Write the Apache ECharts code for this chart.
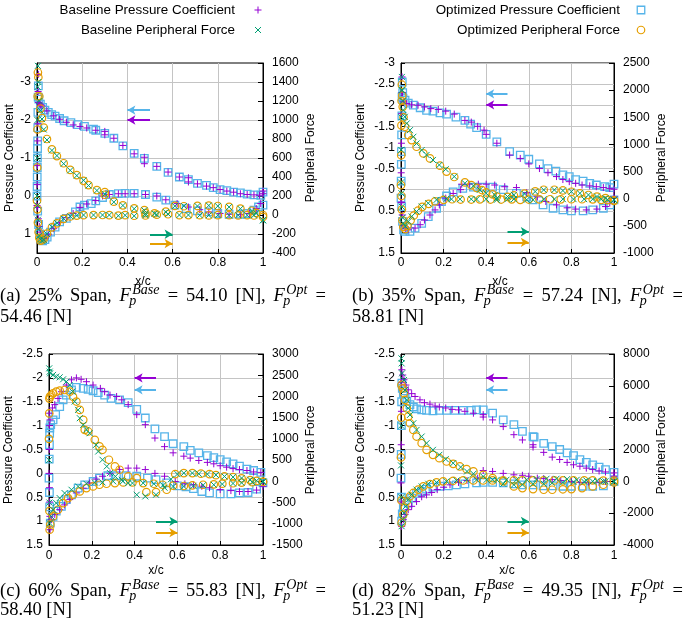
<!DOCTYPE html>
<html><head><meta charset="utf-8">
<script src="https://cdn.jsdelivr.net/npm/echarts@6/dist/echarts.min.js"></script>
<style>html,body{margin:0;padding:0;background:#fff}#c{width:685px;height:623px}</style>
</head><body><div id="c"></div>
<script>
// ---------------- DATA ----------------
const seriesNames = ['Baseline Pressure Coefficient','Baseline Peripheral Force','Optimized Pressure Coefficient','Optimized Peripheral Force'];
const xTickValues = [0,0.2,0.4,0.6,0.8,1];
const aPcTicks = [-3,-2,-1,0,1];
const bPcTicks = [-3,-2.5,-2,-1.5,-1,-0.5,0,0.5,1,1.5];
const cPcTicks = [-2.5,-2,-1.5,-1,-0.5,0,0.5,1,1.5];
const dPcTicks = [-2.5,-2,-1.5,-1,-0.5,0,0.5,1,1.5];
const aPfTicks = [-400,-200,0,200,400,600,800,1000,1200,1400,1600];
const bPfTicks = [-1000,-500,0,500,1000,1500,2000,2500];
const cPfTicks = [-1500,-1000,-500,0,500,1000,1500,2000,2500,3000];
const dPfTicks = [-4000,-2000,0,2000,4000,6000,8000];
const spanPct = ['25%','35%','60%','82%'];
const forceBase = ['54.10','57.24','55.83','49.35'];
const forceOpt = ['54.46','58.81','58.40','51.23'];

// panel (a) 25% span
const aBasePcU = [[0,0.25],[0.001,-0.3],[0.002,-0.8],[0.003,-1.45],[0.004,-1.9],[0.005,-2.75],[0.006,-3.2],[0.007,-2.46],[0.012,-2.42],[0.016,-2.4],[0.022,-2.37],[0.044,-2.24],[0.074,-2.11],[0.10,-2.02],[0.13,-1.94],[0.16,-1.87],[0.19,-1.83],[0.22,-1.79],[0.26,-1.73],[0.30,-1.70],[0.30,-1.61],[0.34,-1.52],[0.38,-1.33],[0.43,-1.11],[0.475,-1.02],[0.475,-0.85],[0.53,-0.78],[0.58,-0.63],[0.63,-0.50],[0.67,-0.48],[0.67,-0.37],[0.71,-0.32],[0.75,-0.26],[0.78,-0.22],[0.81,-0.17],[0.84,-0.13],[0.87,-0.10],[0.90,-0.06],[0.93,-0.04],[0.96,-0.03],[0.985,-0.02],[1.0,-0.13]];
const aBasePcL = [[0.003,0.3],[0.006,0.6],[0.01,0.8],[0.014,0.95],[0.022,1.1],[0.035,1.12],[0.05,1.02],[0.074,0.86],[0.10,0.7],[0.13,0.57],[0.16,0.46],[0.19,0.3],[0.22,0.21],[0.26,0.12],[0.29,0.0],[0.32,-0.04],[0.36,-0.06],[0.39,-0.06],[0.43,-0.06],[0.48,-0.04],[0.53,0.0],[0.57,0.1],[0.62,0.2],[0.67,0.29],[0.72,0.36],[0.76,0.42],[0.81,0.46],[0.85,0.48],[0.9,0.49],[0.94,0.46],[0.97,0.33],[0.99,0.2],[1.0,-0.06]];
const aOptPcU = [[0,0.0],[0.0005,-0.25],[0.001,-0.5],[0.0015,-0.75],[0.002,-1.0],[0.0025,-1.25],[0.003,-1.45],[0.0035,-1.8],[0.004,-2.2],[0.005,-2.6],[0.006,-2.9],[0.008,-2.55],[0.015,-2.42],[0.025,-2.33],[0.035,-2.26],[0.05,-2.2],[0.065,-2.14],[0.08,-2.1],[0.1,-2.04],[0.12,-1.98],[0.15,-1.93],[0.18,-1.88],[0.21,-1.83],[0.25,-1.76],[0.26,-1.73],[0.30,-1.65],[0.34,-1.52],[0.38,-1.32],[0.43,-1.12],[0.475,-0.99],[0.53,-0.78],[0.58,-0.62],[0.63,-0.5],[0.67,-0.43],[0.71,-0.33],[0.75,-0.28],[0.78,-0.22],[0.81,-0.17],[0.84,-0.14],[0.87,-0.1],[0.9,-0.08],[0.93,-0.05],[0.96,-0.03],[0.99,-0.02],[1.0,-0.1]];
const aOptPcL = [[0.003,0.4],[0.007,0.75],[0.012,1.0],[0.018,1.12],[0.025,1.18],[0.035,1.15],[0.045,1.08],[0.06,0.95],[0.08,0.82],[0.1,0.68],[0.13,0.59],[0.17,0.42],[0.19,0.29],[0.21,0.24],[0.24,0.2],[0.26,0.13],[0.29,0.04],[0.32,-0.04],[0.36,-0.06],[0.39,-0.07],[0.43,-0.07],[0.48,-0.04],[0.53,0.03],[0.57,0.11],[0.61,0.24],[0.66,0.33],[0.71,0.39],[0.76,0.42],[0.8,0.46],[0.85,0.48],[0.9,0.48],[0.93,0.46],[0.96,0.37],[0.98,0.29],[1.0,0.24]];
const aBasePfU = [[0,200],[0.001,600],[0.002,1000],[0.003,1350],[0.004,1570],[0.006,1400],[0.01,1200],[0.015,1100],[0.022,1010],[0.03,900],[0.044,790],[0.066,680],[0.088,625],[0.118,540],[0.147,470],[0.176,415],[0.206,365],[0.228,310],[0.265,258],[0.30,220],[0.34,136],[0.38,100],[0.43,66],[0.475,49],[0.48,14],[0.52,14],[0.57,31],[0.61,94],[0.65,94],[0.71,94],[0.76,100],[0.8,94],[0.85,84],[0.9,66],[0.95,42],[0.97,20],[1.0,-55]];
const aBasePfL = [[0.002,100],[0.004,-50],[0.007,-150],[0.01,-220],[0.015,-255],[0.022,-270],[0.03,-262],[0.044,-200],[0.066,-126],[0.088,-84],[0.118,-38],[0.147,-14],[0.176,-5],[0.206,0],[0.25,0],[0.29,0],[0.32,0],[0.36,-8],[0.39,-3],[0.43,-10],[0.48,-3],[0.53,5],[0.58,10],[0.63,0],[0.67,0],[0.72,-3],[0.76,-3],[0.8,-3],[0.85,-3],[0.89,-3],[0.93,-3],[0.96,-3],[1.0,-56]];
const aOptPfU = [[0,150],[0.001,500],[0.002,900],[0.003,1250],[0.004,1500],[0.006,1450],[0.01,1250],[0.015,1120],[0.022,1020],[0.03,920],[0.044,800],[0.066,690],[0.088,620],[0.118,545],[0.147,475],[0.176,420],[0.206,360],[0.228,315],[0.265,262],[0.30,240],[0.30,213],[0.34,140],[0.38,102],[0.43,70],[0.475,52],[0.48,20],[0.52,18],[0.57,35],[0.61,96],[0.65,92],[0.71,96],[0.76,98],[0.8,95],[0.85,86],[0.9,68],[0.95,45],[0.97,22],[1.0,0]];
const aOptPfL = [[0.002,60],[0.004,-80],[0.007,-180],[0.01,-240],[0.015,-270],[0.022,-266],[0.03,-250],[0.044,-196],[0.066,-130],[0.088,-88],[0.118,-40],[0.147,-16],[0.176,-6],[0.206,-2],[0.25,-1],[0.29,0],[0.32,-2],[0.36,-6],[0.39,-2],[0.43,-8],[0.48,-5],[0.53,3],[0.58,8],[0.63,-2],[0.67,-1],[0.72,-2],[0.76,-4],[0.8,-2],[0.85,-2],[0.89,-4],[0.93,-2],[0.96,-5],[1.0,-20]];

// panel (b) 35% span
const bBasePcU = [[0,0.3],[0.001,-0.4],[0.002,-1.1],[0.003,-1.8],[0.004,-2.3],[0.005,-2.67],[0.007,-2.3],[0.011,-2.08],[0.027,-2.04],[0.05,-2.01],[0.08,-2.0],[0.11,-1.96],[0.14,-1.92],[0.175,-1.9],[0.21,-1.86],[0.25,-1.79],[0.3,-1.64],[0.33,-1.6],[0.36,-1.5],[0.39,-1.41],[0.4,-1.31],[0.45,-1.1],[0.51,-0.82],[0.56,-0.74],[0.6,-0.61],[0.65,-0.5],[0.69,-0.4],[0.73,-0.31],[0.76,-0.24],[0.79,-0.19],[0.82,-0.15],[0.85,-0.11],[0.886,-0.09],[0.917,-0.07],[0.95,-0.05],[0.98,-0.03],[1.0,-0.01]];
const bBasePcL = [[0.003,0.3],[0.006,0.6],[0.01,0.85],[0.02,0.93],[0.034,0.95],[0.066,0.91],[0.09,0.83],[0.11,0.72],[0.136,0.6],[0.16,0.48],[0.18,0.36],[0.21,0.2],[0.245,0.09],[0.28,0.0],[0.285,-0.13],[0.32,-0.13],[0.363,-0.13],[0.4,-0.13],[0.44,-0.11],[0.487,-0.07],[0.542,-0.05],[0.59,0.07],[0.64,0.17],[0.68,0.28],[0.73,0.36],[0.78,0.43],[0.82,0.46],[0.87,0.48],[0.92,0.46],[0.96,0.4],[0.98,0.32],[1.0,0.17]];
const bOptPcU = [[0,0.2],[0.0008,-0.2],[0.0015,-0.6],[0.002,-0.9],[0.003,-1.3],[0.004,-1.75],[0.005,-2.2],[0.006,-2.55],[0.008,-2.3],[0.009,-2.16],[0.019,-2.12],[0.034,-2.05],[0.058,-2.0],[0.09,-1.94],[0.12,-1.88],[0.15,-1.86],[0.183,-1.82],[0.214,-1.79],[0.258,-1.72],[0.3,-1.64],[0.327,-1.55],[0.355,-1.47],[0.4,-1.31],[0.45,-1.13],[0.51,-0.9],[0.56,-0.82],[0.6,-0.72],[0.65,-0.61],[0.69,-0.5],[0.727,-0.44],[0.76,-0.35],[0.79,-0.31],[0.82,-0.24],[0.855,-0.2],[0.886,-0.15],[0.917,-0.11],[0.956,-0.07],[0.98,-0.05],[1.0,-0.13]];
const bOptPcL = [[0.003,0.4],[0.007,0.75],[0.012,0.95],[0.019,0.99],[0.042,0.99],[0.066,0.91],[0.097,0.8],[0.128,0.64],[0.167,0.44],[0.19,0.28],[0.214,0.15],[0.245,0.05],[0.29,-0.03],[0.34,-0.06],[0.386,-0.06],[0.43,-0.06],[0.48,0.0],[0.542,0.09],[0.59,0.17],[0.62,0.24],[0.667,0.36],[0.714,0.44],[0.76,0.48],[0.8,0.5],[0.855,0.5],[0.9,0.48],[0.95,0.44],[0.98,0.36],[1.0,0.24]];
const bBasePfU = [[0,300],[0.001,900],[0.002,1500],[0.003,2000],[0.004,2243],[0.006,2000],[0.008,1800],[0.011,1633],[0.018,1509],[0.027,1387],[0.042,1263],[0.058,1141],[0.073,1018],[0.097,896],[0.12,806],[0.15,714],[0.18,622],[0.21,543],[0.25,408],[0.3,285],[0.34,237],[0.37,163],[0.4,102],[0.44,70],[0.45,10],[0.5,40],[0.53,71],[0.58,90],[0.63,132],[0.67,163],[0.72,163],[0.76,150],[0.8,130],[0.84,100],[0.88,70],[0.92,40],[0.96,10],[1.0,-20]];
const bBasePfL = [[0.002,100],[0.004,-150],[0.007,-350],[0.011,-450],[0.02,-510],[0.034,-419],[0.05,-327],[0.073,-236],[0.097,-144],[0.128,-82],[0.167,-21],[0.214,0],[0.237,-8],[0.277,-8],[0.33,-8],[0.355,-8],[0.4,-8],[0.45,-20],[0.5,-8],[0.53,-8],[0.59,-20],[0.62,-20],[0.67,-8],[0.72,-8],[0.76,-8],[0.81,-8],[0.86,-8],[0.9,-8],[0.94,-10],[0.97,-15],[1.0,-20]];
const bOptPfU = [[0,250],[0.001,800],[0.002,1350],[0.003,1800],[0.004,2100],[0.006,1900],[0.008,1692],[0.012,1500],[0.019,1326],[0.034,1172],[0.05,1080],[0.073,957],[0.105,835],[0.136,743],[0.183,608],[0.214,500],[0.25,400],[0.3,300],[0.33,250],[0.355,200],[0.38,160],[0.4,115],[0.43,80],[0.45,40],[0.5,35],[0.53,60],[0.58,95],[0.63,135],[0.67,165],[0.72,165],[0.76,152],[0.8,128],[0.84,98],[0.88,68],[0.92,38],[0.96,12],[1.0,-40]];
const bOptPfL = [[0.002,50],[0.004,-200],[0.007,-400],[0.011,-520],[0.02,-560],[0.03,-500],[0.045,-400],[0.06,-310],[0.08,-220],[0.1,-150],[0.13,-95],[0.16,-50],[0.2,-20],[0.24,-10],[0.28,-15],[0.33,-15],[0.37,-12],[0.42,-15],[0.47,-15],[0.52,-12],[0.56,-20],[0.6,-15],[0.65,-12],[0.7,-10],[0.75,-12],[0.8,-10],[0.85,-10],[0.9,-12],[0.94,-20],[0.97,-25],[1.0,-30]];

// panel (c) 60% span
const cBasePcU = [[0,0.0],[0.001,-0.5],[0.002,-1.0],[0.003,-1.26],[0.005,-1.12],[0.016,-1.37],[0.027,-1.44],[0.042,-1.57],[0.058,-1.71],[0.081,-1.85],[0.105,-1.96],[0.128,-2.0],[0.15,-1.97],[0.175,-1.92],[0.206,-1.85],[0.24,-1.78],[0.26,-1.71],[0.285,-1.64],[0.316,-1.61],[0.34,-1.54],[0.37,-1.44],[0.41,-1.23],[0.45,-1.02],[0.495,-0.74],[0.54,-0.56],[0.58,-0.43],[0.63,-0.36],[0.66,-0.32],[0.7,-0.27],[0.74,-0.23],[0.77,-0.2],[0.8,-0.16],[0.83,-0.13],[0.86,-0.1],[0.89,-0.08],[0.925,-0.06],[0.956,-0.03],[0.99,-0.02]];
const cBasePcL = [[0.002,0.3],[0.003,0.6],[0.004,0.9],[0.005,1.18],[0.011,0.97],[0.027,0.86],[0.05,0.76],[0.073,0.66],[0.097,0.55],[0.128,0.41],[0.16,0.31],[0.19,0.2],[0.22,0.12],[0.25,0.06],[0.285,0.0],[0.33,-0.08],[0.37,-0.11],[0.41,-0.11],[0.45,-0.08],[0.495,0.0],[0.54,0.06],[0.59,0.17],[0.635,0.22],[0.675,0.24],[0.714,0.27],[0.75,0.3],[0.8,0.34],[0.85,0.36],[0.89,0.38],[0.93,0.38],[0.97,0.35],[1.0,0.27]];
const cOptPcU = [[0,0.1],[0.001,-0.3],[0.002,-0.6],[0.003,-0.84],[0.004,-0.95],[0.008,-1.02],[0.019,-1.12],[0.031,-1.23],[0.05,-1.4],[0.066,-1.54],[0.081,-1.64],[0.105,-1.75],[0.128,-1.8],[0.16,-1.78],[0.183,-1.76],[0.206,-1.73],[0.23,-1.69],[0.26,-1.64],[0.29,-1.57],[0.33,-1.54],[0.37,-1.48],[0.41,-1.34],[0.45,-1.16],[0.495,-0.93],[0.54,-0.77],[0.58,-0.62],[0.63,-0.56],[0.66,-0.48],[0.7,-0.43],[0.74,-0.37],[0.77,-0.33],[0.8,-0.29],[0.83,-0.24],[0.86,-0.2],[0.89,-0.15],[0.925,-0.09],[0.956,-0.06],[0.99,-0.02]];
const cOptPcL = [[0.002,0.4],[0.003,0.7],[0.006,1.04],[0.019,0.9],[0.034,0.79],[0.058,0.69],[0.081,0.55],[0.105,0.45],[0.136,0.31],[0.167,0.24],[0.206,0.17],[0.236,0.1],[0.275,0.05],[0.315,0.05],[0.36,0.05],[0.41,0.06],[0.46,0.1],[0.5,0.13],[0.55,0.2],[0.6,0.26],[0.64,0.28],[0.675,0.32],[0.714,0.38],[0.75,0.41],[0.8,0.43],[0.85,0.43],[0.89,0.41],[0.93,0.4],[0.97,0.33],[1.0,0.2]];
const cBasePfU = [[0,500],[0.001,2662],[0.003,2584],[0.005,2545],[0.019,2507],[0.034,2467],[0.05,2451],[0.066,2404],[0.081,2349],[0.097,2271],[0.11,2115],[0.12,1880],[0.136,1683],[0.144,1488],[0.16,1330],[0.175,1213],[0.19,1134],[0.22,860],[0.23,703],[0.25,508],[0.27,352],[0.285,194],[0.31,115],[0.34,37],[0.37,-41],[0.41,-316],[0.45,-355],[0.5,-316],[0.54,-150],[0.57,50],[0.6,170],[0.63,194],[0.67,194],[0.7,178],[0.74,170],[0.78,150],[0.82,115],[0.86,100],[0.9,76],[0.94,37],[0.97,15],[1.0,0]];
const cBasePfL = [[0.002,-500],[0.003,-984],[0.011,-827],[0.019,-670],[0.034,-513],[0.05,-395],[0.073,-277],[0.105,-198],[0.136,-120],[0.175,-57],[0.214,-26],[0.25,-26],[0.3,0],[0.345,0],[0.39,-41],[0.44,-41],[0.49,-57],[0.534,-89],[0.58,-120],[0.63,-120],[0.675,-105],[0.72,-89],[0.77,-81],[0.81,-65],[0.86,-50],[0.9,-35],[0.95,-20],[1.0,-15]];
const cOptPfU = [[0,1000],[0.001,1600],[0.002,1950],[0.004,1995],[0.011,2035],[0.019,2074],[0.034,2113],[0.05,2137],[0.073,2152],[0.097,2113],[0.112,1995],[0.128,1880],[0.144,1683],[0.16,1449],[0.167,1213],[0.183,1174],[0.214,978],[0.236,822],[0.25,743],[0.28,508],[0.308,352],[0.33,273],[0.37,115],[0.41,76],[0.455,-254],[0.5,-254],[0.55,-198],[0.59,170],[0.63,194],[0.67,194],[0.71,180],[0.75,170],[0.78,145],[0.82,115],[0.86,100],[0.9,70],[0.94,30],[0.97,10],[1.0,-10]];
const cOptPfL = [[0.002,-700],[0.003,-1140],[0.006,-1020],[0.019,-827],[0.042,-670],[0.066,-513],[0.089,-395],[0.112,-316],[0.144,-238],[0.175,-159],[0.206,-120],[0.236,-81],[0.269,-57],[0.308,-41],[0.347,-26],[0.39,-26],[0.44,-41],[0.49,-57],[0.53,-80],[0.58,-100],[0.63,-110],[0.67,-95],[0.72,-80],[0.77,-70],[0.81,-55],[0.86,-45],[0.9,-30],[0.95,-20],[1.0,-10]];

// panel (d) 82% span
const dBasePcU = [[0,0.2],[0.001,-0.6],[0.002,-1.3],[0.003,-1.9],[0.004,-2.17],[0.008,-2.06],[0.014,-1.96],[0.023,-1.85],[0.034,-1.75],[0.05,-1.67],[0.066,-1.61],[0.089,-1.54],[0.11,-1.48],[0.136,-1.45],[0.16,-1.41],[0.18,-1.39],[0.21,-1.37],[0.24,-1.34],[0.27,-1.33],[0.3,-1.3],[0.34,-1.26],[0.386,-1.23],[0.386,-1.18],[0.43,-1.12],[0.48,-0.98],[0.53,-0.81],[0.57,-0.7],[0.62,-0.6],[0.62,-0.55],[0.67,-0.44],[0.71,-0.34],[0.745,-0.29],[0.78,-0.23],[0.81,-0.18],[0.84,-0.15],[0.87,-0.11],[0.9,-0.08],[0.93,-0.05],[0.96,-0.03],[1.0,-0.01]];
const dBasePcL = [[0.002,0.6],[0.003,1.11],[0.011,0.97],[0.019,0.86],[0.034,0.76],[0.05,0.69],[0.073,0.59],[0.097,0.49],[0.12,0.45],[0.144,0.4],[0.17,0.34],[0.2,0.29],[0.23,0.24],[0.27,0.19],[0.31,0.15],[0.36,0.1],[0.386,-0.06],[0.43,-0.04],[0.48,0.0],[0.53,0.03],[0.57,0.04],[0.6,0.06],[0.64,0.1],[0.67,0.11],[0.71,0.13],[0.75,0.15],[0.8,0.17],[0.84,0.19],[0.88,0.19],[0.93,0.19],[0.96,0.17],[1.0,0.06]];
const dOptPcU = [[0,0.1],[0.001,-0.4],[0.002,-1.0],[0.003,-1.5],[0.004,-1.89],[0.006,-1.78],[0.011,-1.68],[0.019,-1.57],[0.027,-1.51],[0.042,-1.44],[0.058,-1.39],[0.073,-1.35],[0.097,-1.33],[0.12,-1.32],[0.15,-1.31],[0.18,-1.32],[0.214,-1.32],[0.253,-1.32],[0.292,-1.32],[0.33,-1.32],[0.355,-1.33],[0.386,-1.33],[0.43,-1.26],[0.48,-1.12],[0.53,-1.02],[0.57,-0.88],[0.62,-0.77],[0.625,-0.76],[0.67,-0.63],[0.71,-0.56],[0.745,-0.5],[0.78,-0.43],[0.81,-0.37],[0.84,-0.29],[0.87,-0.23],[0.9,-0.18],[0.93,-0.13],[0.96,-0.08],[1.0,-0.02]];
const dOptPcL = [[0.002,0.5],[0.003,1.0],[0.006,0.85],[0.011,0.72],[0.034,0.62],[0.05,0.52],[0.073,0.42],[0.097,0.38],[0.12,0.33],[0.15,0.29],[0.183,0.27],[0.222,0.26],[0.26,0.24],[0.3,0.22],[0.355,0.2],[0.386,0.19],[0.43,0.19],[0.48,0.2],[0.53,0.22],[0.57,0.24],[0.62,0.24],[0.667,0.26],[0.714,0.26],[0.76,0.27],[0.8,0.27],[0.855,0.27],[0.9,0.27],[0.95,0.26],[1.0,0.17]];
const dBasePfU = [[0,1000],[0.001,3500],[0.002,7725],[0.003,7411],[0.005,6785],[0.014,6367],[0.019,5740],[0.027,5113],[0.034,4590],[0.042,4172],[0.058,3650],[0.073,3232],[0.097,2814],[0.12,2396],[0.15,1978],[0.18,1665],[0.21,1393],[0.245,1143],[0.28,892],[0.31,621],[0.34,475],[0.386,307],[0.43,98],[0.48,-153],[0.53,-215],[0.57,-215],[0.62,-153],[0.67,-153],[0.71,-100],[0.76,-69],[0.81,-40],[0.86,-20],[0.9,0],[0.95,0],[1.0,0]];
const dBasePfL = [[0.002,-1000],[0.003,-2820],[0.008,-2403],[0.014,-1985],[0.022,-1567],[0.034,-1149],[0.05,-835],[0.073,-522],[0.097,-320],[0.128,-153],[0.167,-69],[0.214,0],[0.261,56],[0.308,98],[0.355,98],[0.402,98],[0.45,98],[0.495,98],[0.542,98],[0.59,98],[0.636,140],[0.683,160],[0.73,160],[0.78,140],[0.825,98],[0.87,56],[0.92,35],[0.96,0],[1.0,-20]];
const dOptPfU = [[0,1500],[0.001,4000],[0.002,6054],[0.008,5845],[0.014,5531],[0.019,5113],[0.027,4590],[0.034,4067],[0.042,3650],[0.058,3232],[0.073,2814],[0.097,2396],[0.12,1978],[0.15,1665],[0.18,1456],[0.214,1247],[0.245,1101],[0.276,934],[0.308,767],[0.34,621],[0.386,412],[0.43,203],[0.48,-6],[0.53,-320],[0.57,-424],[0.62,-487],[0.67,-529],[0.71,-529],[0.76,-500],[0.8,-487],[0.85,-424],[0.9,-320],[0.95,-215],[1.0,-70]];
const dOptPfL = [[0.002,-1200],[0.003,-2611],[0.011,-2089],[0.019,-1671],[0.027,-1254],[0.042,-940],[0.058,-731],[0.081,-522],[0.105,-320],[0.136,-173],[0.167,-69],[0.198,0],[0.245,35],[0.292,56],[0.34,56],[0.386,56],[0.43,56],[0.48,56],[0.53,56],[0.57,56],[0.62,60],[0.67,60],[0.72,60],[0.76,60],[0.81,60],[0.86,60],[0.9,60],[0.95,50],[1.0,40]];

// direction arrows (x from/to, y value on own axis)
const pcArrowX = [0.5, 0.4];
const pfArrowX = [0.5, 0.6];
const aArrowY = [-2.0, -203, -2.26, -301];   // base Pc, base Pf, opt Pc, opt Pf
const bArrowY = [-2.01, -608, -2.27, -804];
const cArrowY = [-2.0, -943, -1.75, -1210];
const dArrowY = [-2.0, -2514, -1.75, -3225];

// ---------------- ASSEMBLY ----------------
const colors = ['#9400d3', '#009e73', '#56b4e9', '#e69f00'];
const SYM_PLUS = 'path://M5,0L5,10M0,5L10,5';
const SYM_CROSS = 'path://M0,0L10,10M10,0L0,10';
const symbols = [SYM_PLUS, SYM_CROSS, 'rect', 'circle'];
const symSizes = [7, 6, 7.5, 7.5];
const symBorder = [1, 1, 1.3, 1.2];

const panels = [
  {key:'a', data:[aBasePcU.concat(aBasePcL), aBasePfU.concat(aBasePfL), aOptPcU.concat(aOptPcL), aOptPfU.concat(aOptPfL)], pcTicks:aPcTicks, pfTicks:aPfTicks, arrows:aArrowY},
  {key:'b', data:[bBasePcU.concat(bBasePcL), bBasePfU.concat(bBasePfL), bOptPcU.concat(bOptPcL), bOptPfU.concat(bOptPfL)], pcTicks:bPcTicks, pfTicks:bPfTicks, arrows:bArrowY},
  {key:'c', data:[cBasePcU.concat(cBasePcL), cBasePfU.concat(cBasePfL), cOptPcU.concat(cOptPcL), cOptPfU.concat(cOptPfL)], pcTicks:cPcTicks, pfTicks:cPfTicks, arrows:cArrowY},
  {key:'d', data:[dBasePcU.concat(dBasePcL), dBasePfU.concat(dBasePfL), dOptPcU.concat(dOptPcL), dOptPfU.concat(dOptPfL)], pcTicks:dPcTicks, pfTicks:dPfTicks, arrows:dArrowY}
];
// layout (pixels)
const layout = {
  a:{grid:[37,63,226,190], pcRange:[-3.5,1.5], pcTitle:[10,158], pfTitle:[311,158], xTitle:[143,282], xMargin:4, cap:[0,302,323,326]},
  b:{grid:[401,63,213,190], pcRange:[-3,1.5], pcTitle:[361,158], pfTitle:[662,158], xTitle:[500,282], xMargin:4, cap:[352,302,323,331]},
  c:{grid:[49,354,214,191], pcRange:[-2.5,1.5], pcTitle:[9,450], pfTitle:[311,450], xTitle:[156,571], xMargin:5, cap:[0,597,616,326]},
  d:{grid:[401,354,213,191], pcRange:[-2.5,1.5], pcTitle:[361,450], pfTitle:[662,450], xTitle:[507,571], xMargin:5, cap:[352,597,616,331]}
};

const SANS = '"Liberation Sans", Arial, sans-serif';
const SERIF = '"Liberation Serif", "Times New Roman", serif';
const lbl = {color:'#000', fontSize:12, fontFamily:SANS};
const plainNum = v => String(v);

const grids = [], xAxes = [], yAxes = [], series = [], graphics = [];
panels.forEach((p, i) => {
  const L = layout[p.key];
  grids.push({left:L.grid[0], top:L.grid[1], width:L.grid[2], height:L.grid[3], show:true, borderColor:'#000', borderWidth:1, backgroundColor:'transparent'});
  xAxes.push({gridIndex:i, type:'value', min:xTickValues[0], max:xTickValues[xTickValues.length-1], interval:0.2,
    axisLine:{show:true, onZero:false, lineStyle:{color:'#000'}}, axisTick:{inside:true, length:4, lineStyle:{color:'#000'}},
    axisLabel:Object.assign({margin:L.xMargin, formatter:plainNum}, lbl), splitLine:{show:true, lineStyle:{color:'#c4c4c4', width:1}}});
  const pcStep = 0.5;
  const pcIsHalf = p.pcTicks.length > 1 && (p.pcTicks[1]-p.pcTicks[0]) < 1;
  const left = {gridIndex:i, type:'value', position:'left', inverse:true, min:L.pcRange[0], max:L.pcRange[1], interval:pcStep,
    axisLine:{show:true, onZero:false, lineStyle:{color:'#000'}}, axisTick:{show:true, inside:true, length:4, lineStyle:{color:'#000'}},
    axisLabel:Object.assign({margin:6, formatter:plainNum}, lbl), splitLine:{show:true, lineStyle:{color:'#c4c4c4', width:1}}};
  if (!pcIsHalf) {
    left.axisLabel.customValues = p.pcTicks;
    left.axisTick.customValues = p.pcTicks;
  }
  yAxes.push(left);
  const pfMin = p.pfTicks[0], pfMax = p.pfTicks[p.pfTicks.length-1];
  yAxes.push({gridIndex:i, type:'value', position:'right', min:pfMin, max:pfMax, interval:p.pfTicks[1]-p.pfTicks[0],
    axisLine:{show:true, onZero:false, lineStyle:{color:'#000'}}, axisTick:{show:true, inside:true, length:5, lineStyle:{color:'#000'}},
    axisLabel:Object.assign({margin:9, formatter:plainNum}, lbl), splitLine:{show:false}});

  // draw order: opt Pc, base Pc, opt Pf, base Pf
  [2, 0, 3, 1].forEach(k => {
    const isPc = (k % 2 === 0);
    const arrX = isPc ? pcArrowX : pfArrowX;
    const ay = p.arrows[k];
    series.push({
      type:'scatter', name:seriesNames[k], xAxisIndex:i, yAxisIndex: isPc ? 2*i : 2*i+1,
      data:p.data[k], symbol:symbols[k], symbolSize:symSizes[k], silent:true,
      itemStyle:{color:'transparent', borderColor:colors[k], borderWidth:symBorder[k], opacity:1},
      emphasis:{disabled:true}, animation:false,
      markLine:{silent:true, animation:false, symbol:['none','arrow'], symbolSize:[7,8], label:{show:false},
        lineStyle:{color:colors[k], width:2, type:'solid', opacity:1}, emphasis:{disabled:true},
        data:[[{coord:[arrX[0], ay]}, {coord:[arrX[1], ay]}]]}
    });
  });

  // axis titles
  graphics.push({type:'text', x:L.pcTitle[0], y:L.pcTitle[1], rotation:Math.PI/2, silent:true,
    style:{text:'Pressure Coefficient', font:'12px ' + SANS, fill:'#000', align:'center', verticalAlign:'middle'}});
  graphics.push({type:'text', x:L.pfTitle[0], y:L.pfTitle[1], rotation:Math.PI/2, silent:true,
    style:{text:'Peripheral Force', font:'12px ' + SANS, fill:'#000', align:'center', verticalAlign:'middle'}});
  graphics.push({type:'text', x:L.xTitle[0], y:L.xTitle[1], silent:true,
    style:{text:'x/c', font:'12px ' + SANS, fill:'#000', align:'center', verticalAlign:'middle'}});
});

// legend drawn as graphics (text right-aligned, marker on the right)
const legendPos = [[235, 258, 10], [235, 258, 30], [620, 641, 10], [620, 641, 30]];
seriesNames.forEach((name, k) => {
  const [tx, mx, my] = legendPos[k];
  graphics.push({type:'text', x:tx, y:my, silent:true, style:{text:name, font:'13.4px ' + SANS, fill:'#000', align:'right', verticalAlign:'middle'}});
  const c = colors[k], h = symSizes[k] / 2;
  if (k === 0) {
    graphics.push({type:'line', silent:true, shape:{x1:mx-h, y1:my, x2:mx+h, y2:my}, style:{stroke:c, lineWidth:1}});
    graphics.push({type:'line', silent:true, shape:{x1:mx, y1:my-h, x2:mx, y2:my+h}, style:{stroke:c, lineWidth:1}});
  } else if (k === 1) {
    graphics.push({type:'line', silent:true, shape:{x1:mx-h, y1:my-h, x2:mx+h, y2:my+h}, style:{stroke:c, lineWidth:1}});
    graphics.push({type:'line', silent:true, shape:{x1:mx-h, y1:my+h, x2:mx+h, y2:my-h}, style:{stroke:c, lineWidth:1}});
  } else if (k === 2) {
    graphics.push({type:'rect', silent:true, shape:{x:mx-h, y:my-h, width:2*h, height:2*h}, style:{fill:'none', stroke:c, lineWidth:1.3}});
  } else {
    graphics.push({type:'circle', silent:true, shape:{cx:mx, cy:my, r:h}, style:{fill:'none', stroke:c, lineWidth:1.2}});
  }
});

// captions (LaTeX-like, justified)
const mctx = document.createElement('canvas').getContext('2d');
function tw(font, s) { mctx.font = font; return mctx.measureText(s).width; }
const CAP = 18.5, SCR = 14;
const FN = CAP + 'px ' + SERIF, FI = 'italic ' + CAP + 'px ' + SERIF, FS = 'italic ' + SCR + 'px ' + SERIF;
function txt(x, base, s, font, size) {
  graphics.push({type:'text', x:x, y:base - 0.305 * size, silent:true, style:{text:s, font:font, fill:'#000', align:'left', verticalAlign:'middle'}});
}
panels.forEach((p, i) => {
  const [x0, b1, b2, target] = layout[p.key].cap;
  const words = ['(' + p.key + ')', spanPct[i], 'Span,', {sup:'Base'}, '=', forceBase[i], '[N],', {sup:'Opt'}, '='];
  const widths = words.map(w => typeof w === 'string' ? tw(FN, w) : tw(FI, 'F') + 2 + Math.max(tw(FS, 'p'), tw(FS, w.sup)));
  const total = widths.reduce((s, v) => s + v, 0);
  const gap = Math.max(3, (target - total) / (words.length - 1));
  let x = x0;
  words.forEach((w, j) => {
    if (typeof w === 'string') {
      txt(x, b1, w, FN, CAP);
    } else {
      const wf = tw(FI, 'F');
      txt(x, b1, 'F', FI, CAP);
      txt(x + wf - 1.5, b1 + 3.5, 'p', FS, SCR);
      txt(x + wf + 1.5, b1 - 7.5, w.sup, FS, SCR);
    }
    x += widths[j] + gap;
  });
  txt(x0, b2, forceOpt[i] + ' [N]', FN, CAP);
});

const chart = echarts.init(document.getElementById('c'), null, {renderer:'canvas', width:685, height:623});
chart.setOption({
  animation:false,
  backgroundColor:'#fff',
  grid:grids, xAxis:xAxes, yAxis:yAxes, series:series, graphic:graphics
});
</script></body></html>
